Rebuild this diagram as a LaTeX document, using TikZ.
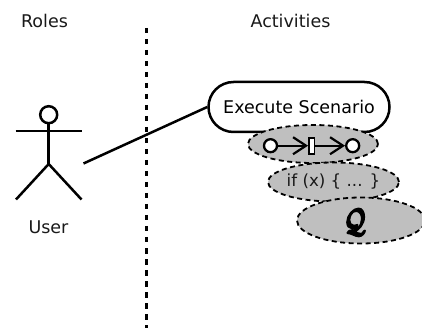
\documentclass[tikz,border=0pt]{standalone}
\usepackage{fontspec}
\usepackage{amsmath}
\usepackage{bm}
\usepackage{graphicx}
\setmainfont{DejaVu Sans}
\usetikzlibrary{arrows.meta,shapes.geometric}
\newsavebox{\calQbox}
\sbox{\calQbox}{\scalebox{0.95}[1.35]{\fontsize{46}{48}\selectfont\special{pdf:code q 2 Tr 1.1 w}$\bm{\mathcal{Q}}$\special{pdf:code Q}}}
\tikzset{
  lbl/.style={font=\fontsize{17.5}{20}\selectfont,inner sep=0pt,text=black!90},
  stroke/.style={line width=2.5pt,line cap=butt},
  cloud/.style={ellipse,draw,fill=black!25,line width=1.8pt,dash pattern=on 5pt off 3.5pt,inner sep=0pt,minimum width=#1},
  place/.style={circle,draw,fill=white,line width=2.3pt,minimum size=13pt,inner sep=0pt},
  trans/.style={rectangle,draw,fill=white,line width=1.8pt,minimum width=5.5pt,minimum height=16pt,inner sep=0pt},
  flow/.style={line width=2.2pt,-{Straight Barb[length=13pt,width=17pt,line width=2.2pt]}},
}
\begin{document}
\begin{tikzpicture}[x=1pt,y=-1pt]
\useasboundingbox (0,0) rectangle (422,328);
\node[lbl] (roles) at (44.5,20.5) {Roles};
\node[lbl] (activities) at (290.5,20.5) {Activities};
\coordinate (divtop) at (146.5,28);
\coordinate (divbot) at (146.5,328);
\draw[line width=3pt,dash pattern=on 5.5pt off 5.5pt] (divtop) -- (divbot);
% actor
\node[circle,draw,line width=2.5pt,minimum size=17pt,inner sep=0pt] (head) at (48.7,114.7) {};
\coordinate (hip) at (48.7,164);
\coordinate (armL) at (15.5,131);
\coordinate (armR) at (81.5,131);
\coordinate (footL) at (16,199.5);
\coordinate (footR) at (81.5,199.5);
\draw[stroke] (head.south) -- (hip);
\draw[stroke] (armL) -- (armR);
\draw[stroke] (footL) -- (hip) -- (footR);
\node[lbl] (user) at (48.5,227) {User};
\coordinate (actor) at (83.5,163.5);
% activity
\node[rectangle,rounded corners=25pt,draw,fill=white,line width=2.5pt,minimum width=181pt,minimum height=50pt,inner sep=0pt,font=\fontsize{17.5}{20}\selectfont] (exec) at (299,107) {Execute Scenario};
\draw[stroke] (actor) -- (exec.west);
\node[cloud=130pt,minimum height=38pt] (c1) at (313,144) {};
\node[place] (p1) at (270.5,145.7) {};
\node[trans] (t1) at (311.7,145.7) {};
\node[place] (p2) at (352.7,145.7) {};
\draw[flow] (p1) -- (t1);
\draw[flow] (t1) -- (p2);
\node[cloud=131pt,minimum height=39pt] (c2) at (333.5,182) {};
\node[lbl,font=\fontsize{16.7}{20}\selectfont] (c2text) at (c2.center) {if (x) \{ ... \}};
\node[cloud=128pt,minimum height=46pt] (c3) at (361,220.5) {};
\node[inner sep=0pt] (c3text) at (355,222) {\usebox{\calQbox}};
\end{tikzpicture}
\end{document}
